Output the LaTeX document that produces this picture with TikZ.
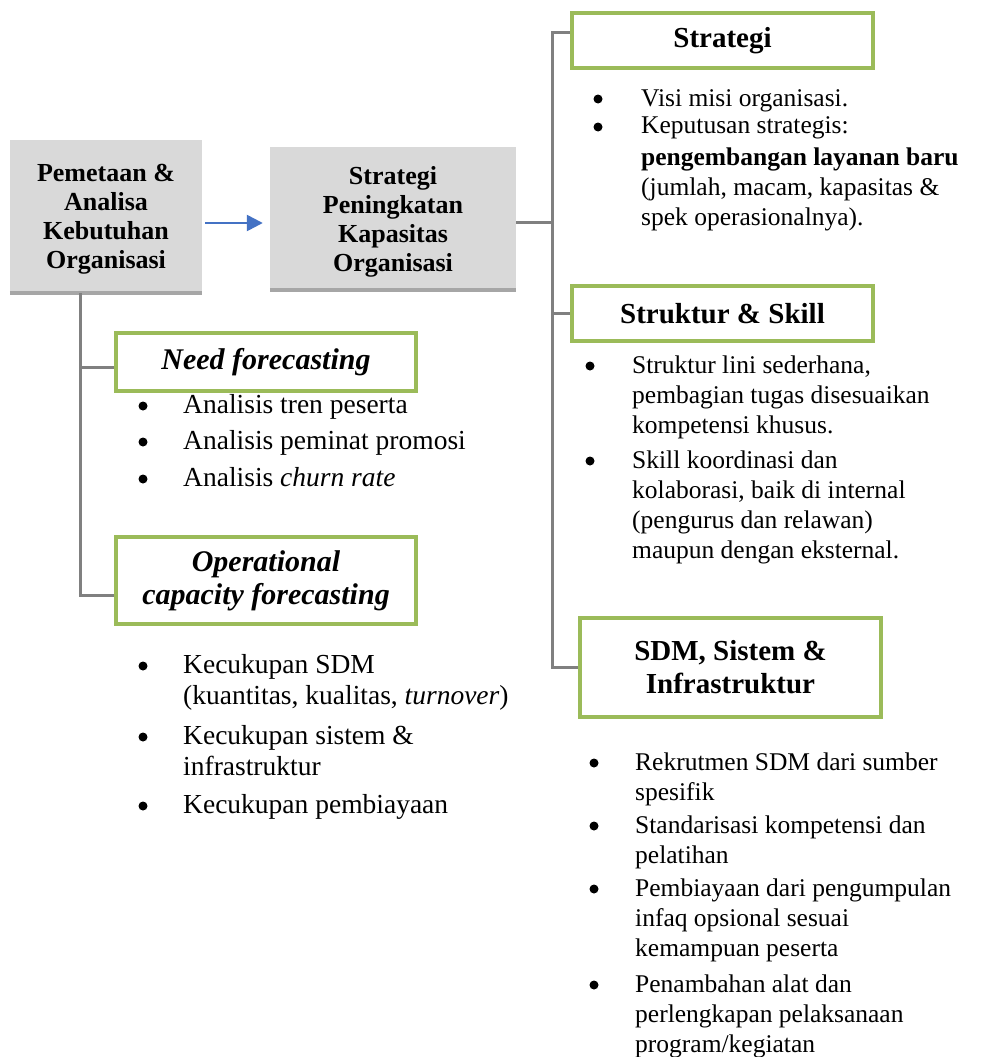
\documentclass[tikz,border=0pt]{standalone}
\usepackage{fontspec}
\setmainfont{Liberation Serif}
\usetikzlibrary{arrows.meta}
\definecolor{box_grey}{RGB}{217, 217, 217}
\definecolor{box_shadow}{RGB}{166, 166, 166}
\definecolor{box_green}{RGB}{155, 187, 89}
\definecolor{line_grey}{RGB}{128, 128, 128}
\definecolor{arr_blue}{RGB}{68, 114, 196}
\tikzstyle{gb}=[rectangle,fill=box_grey,inner sep=0pt]
\tikzstyle{gbt}=[align=center,inner sep=0pt,
  font=\fontsize{26}{29}\selectfont\bfseries]
\tikzstyle{hb}=[rectangle,draw=box_green,fill=white,line width=4pt,
  align=center,inner sep=0pt,font=\fontsize{29}{33}\selectfont\bfseries]
\tikzstyle{hbi}=[hb,font=\fontsize{30}{33}\selectfont\bfseries\itshape]
\tikzstyle{ln}=[draw=line_grey,line width=3pt]
\tikzstyle{bl}=[circle,fill=black,inner sep=0pt,minimum size=9pt]
\tikzstyle{txl}=[anchor=base west,inner sep=0pt,
  font=\fontsize{27.5}{31}\selectfont]
\tikzstyle{txr}=[anchor=base west,inner sep=0pt,
  font=\fontsize{25.5}{30}\selectfont]
\newcommand{\blk}[1]{\begin{tabular}[t]{@{}l@{}}#1\end{tabular}}

\begin{document}
\begin{tikzpicture}[x=1pt,y=-1pt]
    \useasboundingbox (0,0) rectangle (981,1057);
    % main boxes
    \node [style=gb,minimum width=192pt,minimum height=151pt] (pem) at (106,215.5) {};
    \node [style=gbt] (pemt) at ([shift={(0,4)}]pem.center) {Pemetaan \&\\Analisa\\Kebutuhan\\Organisasi};
    \node [style=gb,minimum width=246pt,minimum height=141pt] (kap) at (393,217.5) {};
    \node [style=gbt] (kapt) at ([shift={(0,4)}]kap.center) {Strategi\\Peningkatan\\Kapasitas\\Organisasi};
    \draw [box_shadow,line width=4pt] ([shift={(0,2)}]pem.south west) to ([shift={(0,2)}]pem.south east);
    \draw [box_shadow,line width=4pt] ([shift={(0,2)}]kap.south west) to ([shift={(0,2)}]kap.south east);
    \draw [arr_blue,line width=2.5pt,-{Triangle[length=16pt,width=16pt]}] ([shift={(3,7.5)}]pem.east) to ([shift={(-7,5.5)}]kap.west);
    % right branch
    \node [style=hb,minimum width=301pt,minimum height=55pt] (strat) at (722.5,40.5) {Strategi};
    \node [style=hb,minimum width=301pt,minimum height=55pt] (skill) at (722.5,313.5) {Struktur \& Skill};
    \node [style=hb,minimum width=301pt,minimum height=99pt] (sdm) at (730.5,667.5) {SDM, Sistem \&\\Infrastruktur};
    \coordinate (rj) at (552,222);
    \coordinate (rb) at (552,667.5);
    \draw [style=ln] ([shift={(0,4.5)}]kap.east) to (rj);
    \draw [style=ln] ([shift={(0,-7.5)}]strat.west) -| (rb) to (sdm.west);
    \draw [style=ln] (skill.west) to (skill.west -| rb);
    % left branch
    \node [style=hbi,minimum width=300pt,minimum height=58pt] (need) at (266,362) {Need forecasting};
    \node [style=hbi,minimum width=300pt,minimum height=87pt] (ops) at (266,580.5) {Operational\\capacity forecasting};
    \coordinate (lb) at (80,595);
    \draw [style=ln] ([shift={(-26,2)}]pem.south) to (lb) to ([shift={(0,14.5)}]ops.west);
    \draw [style=ln] ([shift={(0,5)}]need.west) to ([shift={(0,5)}]need.west -| lb);
    % strategi list
    \node [style=bl] (sb1) at (598,99) {};
    \node [style=txr] (st1) at (641,106) {Visi misi organisasi.};
    \node [style=bl] (sb2) at (598,127) {};
    \node [style=txr] (st2) at (641,133) {\blk{Keputusan strategis:\\[2pt]\textbf{pengembangan layanan baru}\\(jumlah, macam, kapasitas \&\\spek operasionalnya).}};
    % struktur list
    \node [style=bl] (kb1) at (590,366) {};
    \node [style=txr] (kt1) at (632,373) {\blk{Struktur lini sederhana,\\pembagian tugas disesuaikan\\kompetensi khusus.}};
    \node [style=bl] (kb2) at (590,461) {};
    \node [style=txr] (kt2) at (632,468) {\blk{Skill koordinasi dan\\kolaborasi, baik di internal\\(pengurus dan relawan)\\maupun dengan eksternal.}};
    % sdm list
    \node [style=bl] (db1) at (594,763) {};
    \node [style=txr] (dt1) at (635,770) {\blk{Rekrutmen SDM dari sumber\\spesifik}};
    \node [style=bl] (db2) at (594,826) {};
    \node [style=txr] (dt2) at (635,833) {\blk{Standarisasi kompetensi dan\\pelatihan}};
    \node [style=bl] (db3) at (594,889) {};
    \node [style=txr] (dt3) at (635,896) {\blk{Pembiayaan dari pengumpulan\\infaq opsional sesuai\\kemampuan peserta}};
    \node [style=bl] (db4) at (594,985) {};
    \node [style=txr] (dt4) at (635,992) {\blk{Penambahan alat dan\\perlengkapan pelaksanaan\\program/kegiatan}};
    % need list
    \node [style=bl] (nb1) at (143,406) {};
    \node [style=txl] (nt1) at (183,413) {Analisis tren peserta};
    \node [style=bl] (nb2) at (143,442) {};
    \node [style=txl] (nt2) at (183,449) {Analisis peminat promosi};
    \node [style=bl] (nb3) at (143,479) {};
    \node [style=txl] (nt3) at (183,486) {Analisis \textit{churn rate}};
    % ops list
    \node [style=bl] (ob1) at (143,666) {};
    \node [style=txl] (ot1) at (183,673) {\blk{Kecukupan SDM\\(kuantitas, kualitas, \textit{turnover})}};
    \node [style=bl] (ob2) at (143,737) {};
    \node [style=txl] (ot2) at (183,744) {\blk{Kecukupan sistem \&\\infrastruktur}};
    \node [style=bl] (ob3) at (143,806) {};
    \node [style=txl] (ot3) at (183,813) {Kecukupan pembiayaan};
\end{tikzpicture}
\end{document}
